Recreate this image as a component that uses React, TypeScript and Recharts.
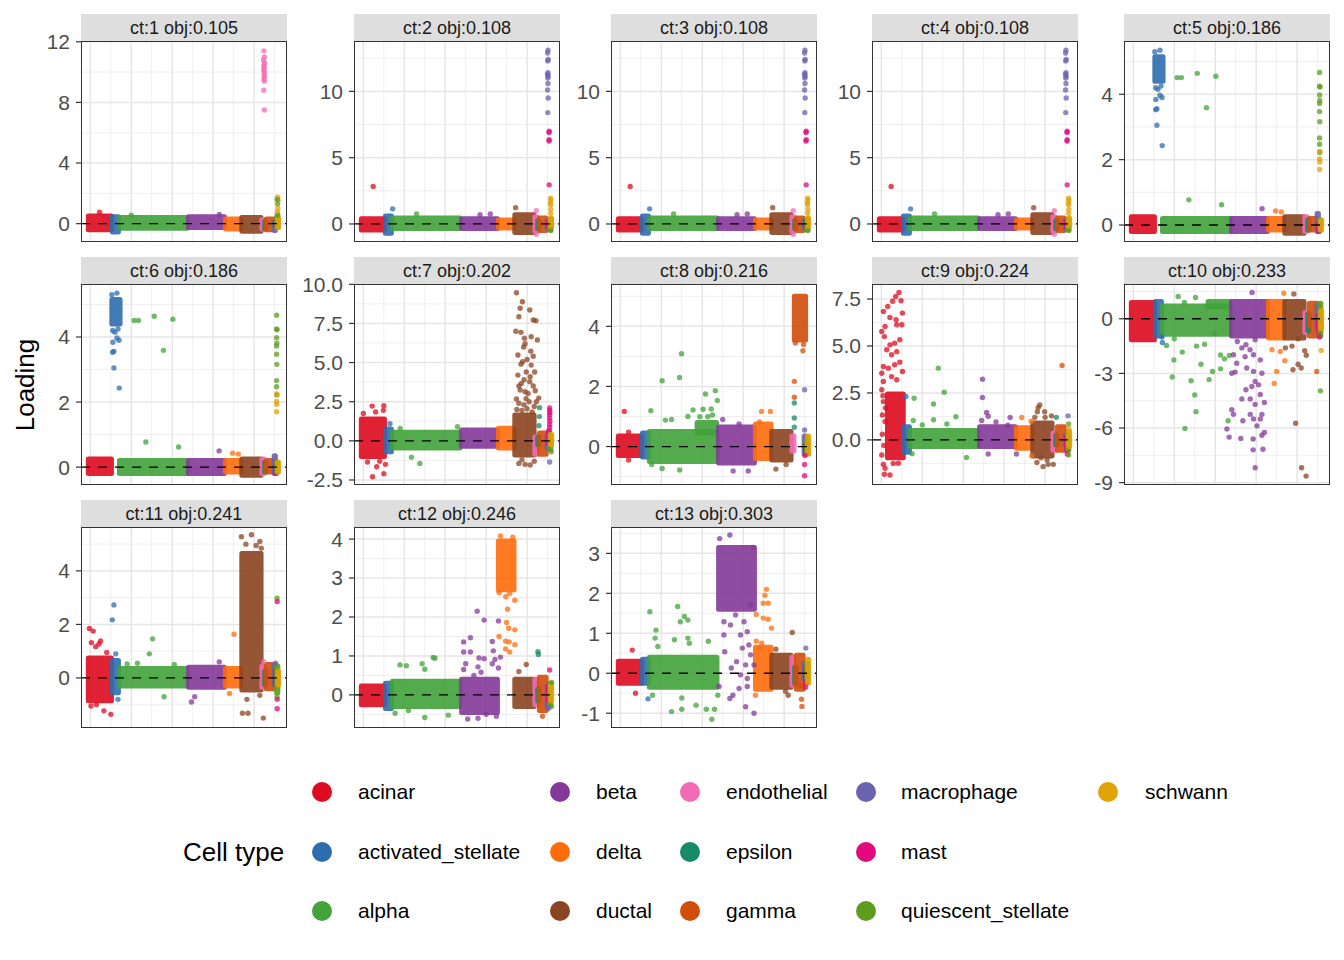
import React from 'react';
import { ScatterChart, Scatter, XAxis, YAxis, CartesianGrid, ReferenceArea, ReferenceLine } from 'recharts';

// cell types in plotting order (cells sorted by type along x)
const CELL_TYPES = [
  'acinar', 'activated_stellate', 'alpha', 'beta', 'delta', 'ductal', 'endothelial',
  'epsilon', 'gamma', 'macrophage', 'mast', 'quiescent_stellate', 'schwann',
];
const CELL_COLORS = [
  '#DD0B1F', '#2E6DAD', '#42A33A', '#84399A', '#FF6C0C', '#8B4421', '#F36BB5',
  '#178A68', '#D14D0B', '#6A63AD', '#E1097D', '#5E9C1E', '#E0A205',
];
// cell index range of each type (thousands of cells)
const TYPE_X0 = [-0.1, 1.08, 1.42, 4.8, 6.6, 7.4, 8.38, 8.52, 8.6, 8.98, 9.05, 9.1, 9.15];
const TYPE_X1 = [1.03, 1.37, 4.72, 6.55, 7.36, 8.34, 8.48, 8.58, 8.93, 9.04, 9.09, 9.16, 9.2];

const X_DOMAIN = [-0.4575, 9.6075];
const X_MAJOR = [0, 2, 4, 6, 8];
const X_MINOR = [1, 3, 5, 7, 9];

const FACET_LABELS = [
  'ct:1 obj:0.105', 'ct:2 obj:0.108', 'ct:3 obj:0.108', 'ct:4 obj:0.108', 'ct:5 obj:0.186',
  'ct:6 obj:0.186', 'ct:7 obj:0.202', 'ct:8 obj:0.216', 'ct:9 obj:0.224', 'ct:10 obj:0.233',
  'ct:11 obj:0.241', 'ct:12 obj:0.246', 'ct:13 obj:0.303',
];
const Y_DOMAINS = [
  [-1.21, 12.05], [-1.36, 13.8], [-1.36, 13.8], [-1.36, 13.8], [-0.52, 5.63],
  [-0.55, 5.63], [-2.82, 10.02], [-1.28, 5.41], [-2.4, 8.3], [-9.13, 1.91],
  [-1.87, 5.64], [-0.85, 4.31], [-1.37, 3.66],
];
const Y_TICKS = [
  [0, 4, 8, 12], [0, 5, 10], [0, 5, 10], [0, 5, 10], [0, 2, 4],
  [0, 2, 4], [-2.5, 0, 2.5, 5, 7.5, 10], [0, 2, 4], [0, 2.5, 5, 7.5], [-9, -6, -3, 0],
  [0, 2, 4], [0, 1, 2, 3, 4], [-1, 0, 1, 2, 3],
];
const Y_DECIMALS = [0, 0, 0, 0, 0, 0, 1, 0, 1, 0, 0, 0, 0];

// dense bulk of each type: [type, yLow, yHigh, xFrom?, xTo?]
const CORES_1 = [
  [0, -0.4, 0.5], [1, -0.55, 0.45], [2, -0.3, 0.4], [3, -0.25, 0.45], [4, -0.35, 0.3],
  [5, -0.5, 0.4], [6, -0.35, 0.25], [7, -0.35, 0.15], [8, -0.4, 0.3], [9, -0.45, 0.15],
  [10, -0.15, 0.15], [11, -0.25, 0.45], [12, -0.25, 0.35],
];
const CORES_2 = [
  [0, -0.45, 0.4], [1, -0.7, 0.6], [2, -0.35, 0.45], [3, -0.35, 0.4], [4, -0.3, 0.3],
  [5, -0.65, 0.7], [6, -0.55, 0.55], [7, -0.35, 0.25], [8, -0.5, 0.45], [9, -0.35, 0.25],
  [10, -0.25, 0.25], [11, -0.45, 0.35], [12, -0.25, 0.45],
];
const CORES_5 = [
  [0, -0.2, 0.25], [1, 4.4, 5.15, 1.05, 1.45], [2, -0.2, 0.2], [3, -0.2, 0.2], [4, -0.15, 0.2],
  [5, -0.25, 0.25], [6, -0.2, 0.25], [7, -0.15, 0.15], [8, -0.15, 0.2], [9, -0.2, 0.35],
  [10, -0.2, 0.05], [11, -0.15, 0.15], [12, -0.15, 0.15],
];
const CORES_7 = [
  [0, -1.0, 1.4], [1, -0.7, 0.75], [2, -0.45, 0.55], [3, -0.35, 0.7], [4, -0.45, 0.8],
  [5, -0.9, 1.65], [6, -0.85, 0.25], [7, -0.25, 0.25], [8, -0.85, 0.5], [9, -0.45, 0.35],
  [10, -0.15, 0.65], [11, -0.55, 0.4], [12, -0.25, 0.4],
];
const CORES_8 = [
  [0, -0.3, 0.35], [1, -0.35, 0.45], [2, -0.5, 0.5], [2, 0.45, 0.8, 3.75, 4.7], [3, -0.55, 0.65],
  [4, -0.4, 0.75], [5, -0.45, 0.5], [6, -0.15, 0.35], [8, 3.55, 5.0, 8.5, 9.05], [9, -0.25, 0.35],
  [10, -0.25, 0.05], [11, -0.25, 0.25], [12, -0.25, 0.35],
];
const CORES_9 = [
  [0, -0.95, 2.45, 0.3, 1.07], [1, -0.65, 0.7], [2, -0.35, 0.5], [3, -0.35, 0.7], [4, -0.45, 0.65],
  [5, -0.85, 0.9], [6, -0.55, 0.35], [7, -0.25, 0.25], [8, -0.55, 0.7], [9, -0.25, 0.25],
  [10, -0.55, 0.15], [11, -0.55, 0.45], [12, -0.35, 0.45],
];
const CORES_10 = [
  [0, -1.15, 0.9], [1, -0.95, 0.95], [2, -0.85, 0.7], [2, 0.65, 0.95, 3.65, 4.7], [3, -0.95, 0.95],
  [4, -1.05, 0.95], [5, -1.05, 0.95], [6, -0.75, 0.35], [7, -0.65, 0.25], [8, -0.95, 0.85],
  [9, -0.45, 0.75], [10, -0.75, 0.15], [11, -0.95, 0.85], [12, -0.55, 0.45],
];
const CORES_11 = [
  [0, -0.85, 0.75], [1, -0.55, 0.65], [2, -0.3, 0.35], [3, -0.35, 0.4], [4, -0.3, 0.35],
  [5, -0.45, 4.65], [6, -0.35, 0.45], [7, -0.25, 0.25], [8, -0.4, 0.5], [9, -0.25, 0.5],
  [10, -0.25, 0.25], [11, -0.55, 0.45], [12, -0.25, 0.25],
];
const CORES_12 = [
  [0, -0.25, 0.23], [1, -0.35, 0.3], [2, -0.3, 0.35], [3, -0.45, 0.4], [4, 2.7, 3.95],
  [5, -0.3, 0.4], [6, -0.25, 0.4], [7, -0.15, 0.15], [8, -0.4, 0.45], [9, -0.3, 0.25],
  [10, -0.15, 0.25], [11, -0.25, 0.3], [12, -0.15, 0.25],
];
const CORES_13 = [
  [0, -0.25, 0.3], [1, -0.25, 0.35], [2, -0.35, 0.4], [3, 1.6, 3.15], [4, -0.4, 0.65],
  [5, -0.35, 0.45], [6, -0.3, 0.4], [7, -0.25, 0.15], [8, -0.4, 0.45], [9, -0.15, 0.25],
  [10, -0.25, 0.15], [11, -0.15, 0.25], [12, -0.25, 0.35],
];

// single cells away from the bulk: [type, x, loading]
const PTS_1 = [
  [0, 0.45, 0.75], [2, 2.0, 0.55], [3, 6.3, 0.6],
  [6, 8.48, 11.4], [6, 8.5, 11.0], [6, 8.46, 10.8], [6, 8.52, 10.6], [6, 8.48, 10.45],
  [6, 8.5, 10.3], [6, 8.47, 10.15], [6, 8.5, 10.0], [6, 8.49, 9.85], [6, 8.51, 9.7],
  [6, 8.48, 9.55], [6, 8.5, 9.4], [6, 8.47, 8.8], [6, 8.5, 7.5],
  [12, 9.15, 1.75], [12, 9.17, 1.55], [11, 9.13, 1.6], [11, 9.15, 1.3], [12, 9.16, 1.0],
  [12, 9.14, 0.75], [11, 9.16, 0.55],
];
const PTS_2 = [
  [0, 0.48, 2.83], [1, 1.43, 1.14], [2, 2.6, 0.75], [3, 5.7, 0.7], [3, 6.2, 0.75],
  [5, 7.44, 1.23], [6, 8.45, 1.0], [6, 8.45, -0.78],
  [9, 9.02, 13.1], [9, 9.0, 12.9], [9, 9.03, 12.4], [9, 9.01, 12.3], [9, 9.02, 11.4],
  [9, 9.0, 11.3], [9, 9.03, 11.15], [9, 9.01, 11.0], [9, 9.02, 10.6], [9, 9.0, 10.1],
  [9, 9.03, 9.5], [9, 9.01, 8.4],
  [10, 9.08, 7.0], [10, 9.07, 6.9], [10, 9.08, 6.35], [10, 9.07, 6.25], [10, 9.08, 2.95],
  [12, 9.15, 1.95], [12, 9.16, 1.8], [12, 9.14, 1.6], [12, 9.15, 1.45], [12, 9.16, 1.1],
  [12, 9.15, 0.8], [11, 9.16, -0.5],
];
const PTS_5 = [
  [1, 1.05, 5.3], [1, 1.3, 5.35], [1, 1.09, 4.2], [1, 1.3, 3.97], [1, 1.4, 3.9], [1, 1.1, 3.84],
  [1, 1.09, 3.53], [1, 1.15, 3.56], [1, 1.15, 3.05], [1, 1.41, 2.43], [1, 1.2, 4.15], [1, 1.35, 4.25],
  [2, 2.14, 4.51], [2, 2.35, 4.51], [2, 3.12, 4.64], [2, 3.57, 3.59], [2, 4.03, 4.55],
  [2, 2.71, 0.77], [2, 4.31, 0.62],
  [3, 6.29, 0.5], [4, 6.95, 0.43], [4, 7.23, 0.4],
  [11, 9.1, 4.67], [11, 9.1, 4.25], [11, 9.12, 4.22], [11, 9.1, 3.98], [11, 9.11, 3.81],
  [11, 9.1, 3.72], [11, 9.1, 3.47], [11, 9.11, 3.16], [11, 9.1, 2.66], [11, 9.1, 2.47],
  [11, 9.11, 2.22], [12, 9.11, 2.25], [12, 9.1, 2.02], [12, 9.11, 1.93], [12, 9.1, 1.7],
];
const PTS_7 = [
  [0, 0.43, 2.22], [0, 1.0, 2.25], [0, 0.98, 1.95], [0, 0.0, 1.75], [0, 0.6, 1.85],
  [0, 0.65, -1.65], [0, 0.45, -2.29], [0, 1.0, -2.1], [0, 1.08, -1.5], [0, 0.2, -1.35], [0, 0.8, -1.3],
  [1, 1.3, 1.1], [2, 2.76, -1.44], [2, 2.35, -1.04], [2, 4.6, 0.9], [2, 1.8, 0.8],
  [5, 7.48, 9.46], [5, 7.77, 8.89], [5, 7.66, 8.47], [5, 8.13, 8.36], [5, 7.6, 7.93], [5, 8.3, 7.72],
  [5, 8.43, 7.68], [5, 7.45, 7.0], [5, 7.7, 6.93], [5, 8.2, 6.65], [5, 7.87, 6.55], [5, 8.5, 6.45],
  [5, 7.83, 6.0], [5, 7.55, 5.48], [5, 8.18, 5.73], [5, 7.78, 5.05], [5, 8.2, 4.84], [5, 7.55, 4.2],
  [5, 7.96, 4.4], [5, 8.37, 4.4], [5, 7.72, 3.67], [5, 8.13, 3.78], [5, 8.3, 3.5], [5, 7.66, 3.25],
  [5, 7.9, 3.14], [5, 8.05, 3.03], [5, 7.48, 2.67], [5, 8.57, 2.73], [5, 7.6, 2.4], [5, 7.85, 2.3],
  [5, 8.1, 2.5], [5, 8.35, 2.2], [5, 7.5, 2.0], [5, 7.75, 1.95], [5, 8.0, 2.05], [5, 8.25, 1.85],
  [5, 8.45, 2.5], [5, 7.95, 2.7], [5, 7.7, 4.9], [5, 8.0, 5.2], [5, 7.9, 6.2], [5, 8.3, 5.4],
  [5, 7.6, 3.5], [5, 8.15, 4.1], [5, 7.85, 3.9], [5, 8.4, 3.2],
  [5, 7.6, -1.44], [5, 7.9, -1.5], [5, 8.15, -1.54], [5, 7.75, -1.2], [5, 8.35, -1.3],
  [7, 8.61, 2.12], [7, 8.6, 1.55], [7, 8.58, 0.97],
  [10, 9.1, 2.1], [10, 9.1, 1.95], [10, 9.11, 1.8], [10, 9.1, 1.65], [10, 9.1, 1.45],
  [10, 9.11, 1.25], [10, 9.1, 1.05], [10, 9.1, 0.85], [9, 9.1, -1.35], [11, 9.18, -0.7],
];
const PTS_8 = [
  [0, 0.19, 1.17], [0, 0.4, 0.48], [0, 0.4, -0.45],
  [2, 2.04, 2.19], [2, 2.89, 2.3], [2, 2.99, 3.09], [2, 1.49, 1.19], [2, 2.2, 0.88], [2, 2.5, 0.9],
  [2, 3.55, 1.22], [2, 3.88, 0.99], [2, 4.04, 1.24], [2, 4.16, 1.75], [2, 4.64, 1.86], [2, 4.74, 1.53],
  [2, 4.44, 1.25], [2, 4.27, 0.99], [2, 1.53, -0.6], [2, 2.04, -0.73], [2, 2.9, -0.78], [2, 3.3, 1.0],
  [2, 4.5, 1.05],
  [3, 5.51, -0.81], [3, 6.25, -0.81], [3, 5.0, 0.9], [3, 5.8, 0.75],
  [4, 6.9, 1.17], [4, 7.33, 1.17], [4, 6.8, 0.82], [5, 7.6, -0.75], [5, 8.1, -0.6],
  [8, 8.92, 3.19], [8, 8.5, 2.17], [8, 8.5, 1.64], [8, 8.55, 3.45], [8, 8.95, 3.4],
  [7, 8.5, 1.45], [7, 8.5, 0.95], [7, 8.5, 0.64], [9, 9.0, 1.89], [9, 9.0, 0.55],
  [10, 9.0, -0.6], [10, 9.0, -0.97], [10, 9.02, -0.3],
];
const PTS_9 = [
  [0, 0.86, 7.85], [0, 0.7, 7.64], [0, 0.96, 7.41], [0, 0.55, 7.38], [0, 0.31, 7.1], [0, 0.1, 6.84],
  [0, 1.03, 6.75], [0, 0.72, 6.4], [0, 0.42, 6.52], [0, 0.75, 6.13], [0, 1.0, 6.13], [0, 0.18, 6.04],
  [0, 0.02, 5.77], [0, 0.15, 5.5], [0, 0.9, 5.33], [0, 0.65, 5.15], [0, 0.42, 5.06], [0, 0.26, 4.8],
  [0, 0.75, 4.7], [0, 0.5, 4.53], [0, 0.9, 4.14], [0, 0.1, 3.91], [0, 0.34, 3.82], [0, 0.65, 4.0],
  [0, 1.03, 3.64], [0, 0.02, 3.55], [0, 0.5, 3.37], [0, 0.1, 3.11], [0, 0.75, 3.2], [0, 0.02, 2.67],
  [0, 0.1, 2.04], [0, 0.05, 1.33], [0, 0.18, 0.98], [0, 0.02, -0.8], [0, 0.1, -1.3], [0, 0.18, -1.51],
  [0, 0.42, -1.87], [0, 0.15, -1.83], [0, 0.83, -1.24], [0, 0.58, -1.25], [0, 0.05, 0.3],
  [0, 0.12, -0.3], [0, 0.2, 1.7], [0, 0.08, 2.35],
  [1, 1.2, 2.31],
  [2, 1.6, 2.22], [2, 2.78, 3.82], [2, 3.07, 2.54], [2, 2.55, 1.91], [2, 1.56, 1.04], [2, 2.55, 1.07],
  [2, 3.64, 1.23], [2, 1.5, -0.73], [2, 4.16, -0.94], [2, 2.0, 0.8], [2, 3.2, 0.85],
  [3, 4.94, 3.23], [3, 4.94, 2.26], [3, 5.14, 1.46], [3, 5.22, 1.26], [3, 4.9, 1.03], [3, 6.29, 1.19],
  [3, 6.18, 0.78], [3, 5.22, -0.75], [3, 6.6, -0.75], [3, 5.6, 0.95],
  [4, 6.86, 1.19], [4, 7.32, 1.0], [4, 7.35, -0.85],
  [5, 7.66, 1.72], [5, 7.74, 1.86], [5, 7.98, 1.5], [5, 7.62, 1.5], [5, 8.31, 1.28], [5, 7.9, -1.42],
  [5, 7.6, -1.2], [5, 8.15, -1.3], [5, 8.4, -1.3], [5, 7.8, -0.95], [5, 8.1, -1.05], [5, 7.5, 1.2],
  [5, 8.0, 1.2],
  [8, 8.83, 3.96], [7, 8.55, 1.2], [9, 9.12, 1.28], [10, 9.08, -0.75], [11, 9.15, 0.85],
  [11, 9.15, -0.8], [12, 9.16, 0.6],
];
const PTS_10 = [
  [1, 1.4, -1.0], [1, 1.42, -1.3],
  [2, 2.19, 1.23], [2, 3.04, 1.17], [2, 2.5, 0.9], [2, 1.62, -1.47], [2, 3.09, -1.5], [2, 3.48, -1.4],
  [2, 2.0, -1.1], [2, 2.39, -1.83], [2, 1.98, -2.26], [2, 3.3, -2.5], [2, 4.26, -1.99], [2, 4.69, -2.02],
  [2, 4.45, -2.2], [2, 3.87, -2.9], [2, 4.26, -2.75], [2, 3.7, -3.34], [2, 1.9, -3.2], [2, 2.82, -3.4],
  [2, 3.0, -4.18], [2, 3.06, -5.1], [2, 2.52, -6.02], [2, 4.63, -5.6], [2, 3.96, -0.8],
  [3, 5.8, 1.45], [3, 4.89, -1.98], [3, 5.05, -2.44], [3, 5.46, -2.08], [3, 5.87, -1.98], [3, 6.2, -2.26],
  [3, 4.81, -2.99], [3, 4.97, -2.93], [3, 5.54, -2.7], [3, 5.87, -2.89], [3, 6.28, -2.99], [3, 5.95, -3.44],
  [3, 5.79, -3.72], [3, 6.12, -3.63], [3, 5.5, -3.9], [3, 6.2, -4.16], [3, 5.3, -4.4], [3, 5.71, -4.4],
  [3, 6.4, -4.6], [3, 5.95, -4.7], [3, 4.81, -5.0], [3, 4.89, -5.25], [3, 5.35, -5.6], [3, 5.71, -5.25],
  [3, 5.87, -5.5], [3, 6.28, -5.25], [3, 6.04, -5.88], [3, 6.2, -5.5], [3, 4.57, -6.05], [3, 4.68, -6.5],
  [3, 5.25, -6.57], [3, 5.85, -6.6], [3, 6.28, -6.4], [3, 6.4, -6.25], [3, 5.85, -7.2], [3, 6.33, -7.17],
  [3, 5.95, -8.18], [3, 5.08, -1.25], [3, 5.5, -1.43], [3, 5.95, -1.15], [3, 5.3, -1.6], [3, 5.7, -1.7],
  [4, 7.18, -1.8], [4, 7.4, -2.3], [4, 7.0, -2.9], [4, 6.88, -3.55], [4, 6.77, -1.7], [4, 7.35, 1.4],
  [5, 7.84, 1.36], [5, 7.43, -1.6], [5, 7.75, -1.5], [5, 8.05, -1.1], [5, 8.37, -1.75], [5, 8.45, -2.0],
  [5, 8.05, -2.5], [5, 8.2, -2.7], [5, 7.8, -2.8], [5, 7.93, -5.74], [5, 8.22, -8.18], [5, 8.44, -8.64],
  [8, 8.96, -2.9], [11, 9.14, -3.96], [12, 9.18, -1.74], [12, 9.18, -0.4], [10, 9.1, -1.0], [7, 8.55, -0.65],
];
const PTS_11 = [
  [0, -0.05, 1.85], [0, 0.14, 1.75], [0, 0.5, 1.38], [0, 0.26, 1.17], [0, 0.42, 1.27], [0, 0.05, 1.32],
  [0, 0.66, -1.23], [0, 1.0, -1.36], [0, 0.03, -1.05], [0, 0.3, -1.0], [0, 0.8, 0.95],
  [1, 1.15, 2.73], [1, 1.07, 2.17], [1, 1.24, 0.9], [1, 1.35, -0.8],
  [2, 3.04, 1.46], [2, 2.88, 0.9], [2, 1.8, 0.52], [2, 3.6, -0.7], [2, 2.3, 0.55], [2, 4.1, 0.5],
  [3, 4.94, -0.9], [3, 5.1, -0.7], [3, 6.3, 0.6], [4, 7.02, 1.63], [4, 6.8, -0.58],
  [5, 7.38, 5.28], [5, 7.87, 5.35], [5, 8.28, 5.1], [5, 7.43, -1.32], [5, 7.7, -1.32], [5, 8.45, -1.5],
  [5, 7.65, -0.8], [5, 8.28, -0.65], [5, 7.6, 5.0], [5, 8.1, 4.95], [5, 8.35, 4.85],
  [6, 8.47, 0.61], [11, 9.12, 2.98], [11, 9.12, -0.7], [10, 9.13, 2.85], [10, 9.13, -0.8],
  [10, 9.13, -1.15], [12, 9.16, 0.05], [9, 9.05, 0.55],
];
const PTS_12 = [
  [2, 1.79, 0.77], [2, 2.87, 0.8], [2, 3.41, 0.96], [2, 3.5, 0.94], [2, 3.0, 0.66], [2, 2.1, 0.75],
  [2, 1.55, -0.47], [2, 3.0, -0.58], [2, 4.15, -0.52], [2, 2.2, -0.4],
  [3, 5.56, 2.15], [3, 5.9, 1.92], [3, 6.6, 1.9], [3, 5.23, 1.47], [3, 4.9, 1.36], [3, 6.3, 1.37],
  [3, 4.9, 1.1], [3, 5.23, 1.1], [3, 5.65, 0.95], [3, 5.9, 0.93], [3, 6.35, 1.13], [3, 6.43, 0.91],
  [3, 6.6, 0.69], [3, 5.6, 0.72], [3, 5.0, 0.8], [3, 5.1, -0.62], [3, 5.6, -0.6], [3, 6.0, -0.5],
  [3, 6.5, -0.55], [3, 5.4, 0.5], [3, 5.75, 0.58], [3, 4.9, 0.65], [3, 6.7, 0.97], [3, 6.3, 0.8],
  [4, 6.96, 2.52], [4, 7.15, 2.6], [4, 7.4, 2.43], [4, 6.63, 2.63], [4, 7.05, 2.2], [4, 7.0, 1.86],
  [4, 7.1, 1.71], [4, 7.4, 1.67], [4, 6.63, 1.5], [4, 6.95, 1.38], [4, 7.12, 1.36], [4, 7.4, 1.29],
  [4, 6.95, 1.18], [4, 7.15, 1.1], [4, 6.7, 4.08], [4, 7.3, 4.05],
  [5, 7.96, 0.78], [5, 7.6, 0.6], [7, 8.53, 1.11], [7, 8.55, 1.04], [8, 8.75, -0.55],
  [10, 9.1, 0.64], [12, 9.17, 0.25], [11, 9.2, 0.32], [11, 9.2, -0.3], [9, 9.05, -0.35],
];
const PTS_13 = [
  [0, 0.58, 0.58], [0, 0.74, -0.5], [1, 1.35, -0.64],
  [2, 1.44, 1.54], [2, 1.74, 1.08], [2, 1.7, 0.88], [2, 1.83, 0.67], [2, 2.64, 0.84], [2, 2.8, 1.67],
  [2, 2.93, 1.29], [2, 3.13, 1.42], [2, 3.3, 1.33], [2, 3.3, 0.88], [2, 3.37, 0.75], [2, 4.3, 0.8],
  [2, 1.57, -0.55], [2, 2.5, -0.96], [2, 3.0, -0.62], [2, 3.0, -0.9], [2, 3.7, -0.8], [2, 4.2, -0.9],
  [2, 4.47, -1.15], [2, 4.6, -0.9], [2, 4.76, -0.55],
  [3, 5.35, 3.46], [3, 4.85, 3.37], [3, 6.5, 3.15], [3, 5.06, 0.96], [3, 5.38, 1.21], [3, 5.1, 0.54],
  [3, 5.68, 0.29], [3, 5.87, 0.96], [3, 6.04, 1.29], [3, 6.2, 1.04], [3, 6.28, 0.71], [3, 5.96, 0.63],
  [3, 6.36, 0.46], [3, 6.12, 0.21], [3, 6.53, 0.21], [3, 5.42, 0.13], [3, 5.87, -0.04], [3, 6.2, -0.13],
  [3, 5.35, -0.63], [3, 5.5, -0.55], [3, 5.8, -0.38], [3, 6.2, -0.33], [3, 6.12, -0.84], [3, 6.53, -1.0],
  [3, 4.82, -0.33], [3, 5.06, 1.29], [3, 5.63, 1.46], [3, 6.36, 1.71],
  [4, 7.14, 2.1], [4, 7.06, 1.95], [4, 6.98, 1.75], [4, 7.22, 1.75], [4, 6.64, 1.47], [4, 6.98, 1.38],
  [4, 7.22, 1.35], [4, 7.38, 1.13], [4, 6.64, 0.8], [4, 6.8, 0.63], [4, 6.9, 0.75], [4, 6.6, -0.55],
  [5, 8.4, 1.02], [5, 7.6, 0.6], [5, 8.07, -0.45], [5, 8.2, -0.55],
  [8, 8.85, -0.65], [8, 8.87, -0.83], [8, 8.8, -0.3], [10, 9.05, -0.35], [9, 9.06, 0.63],
];

const FACET_CORES = [
  CORES_1, CORES_2, CORES_2, CORES_2, CORES_5, CORES_5, CORES_7,
  CORES_8, CORES_9, CORES_10, CORES_11, CORES_12, CORES_13,
];
const FACET_POINTS = [
  PTS_1, PTS_2, PTS_2, PTS_2, PTS_5, PTS_5, PTS_7,
  PTS_8, PTS_9, PTS_10, PTS_11, PTS_12, PTS_13,
];

// legend is laid out column by column
const LEGEND_COLUMNS = [[0, 1, 2], [3, 4, 5], [6, 7, 8], [9, 10, 11], [12]];

const FONT = '"Liberation Sans", Arial, Helvetica, sans-serif';
const PANEL_LEFT = [81, 354, 611, 872, 1124];
const PANEL_TOP = [41, 284, 527];
const PANEL_W = 206;
const PANEL_H = 201;
const STRIP_H = 27;
const AXIS_W = 70;
const PAD = 14; // room for tick labels sitting on the panel edge

const minorLines = (ticks: number[], domain: number[]) => {
  const step = ticks[1] - ticks[0];
  const out: number[] = [];
  for (let v = ticks[0] - step / 2; v <= domain[1]; v += step) {
    if (v >= domain[0]) out.push(v);
  }
  return out;
};

const Dot = (props: any) => {
  const { cx, cy, payload } = props;
  if (cx == null || cy == null) return null;
  return <circle cx={cx} cy={cy} r={2.7} fill={CELL_COLORS[payload.t]} fillOpacity={0.75} />;
};

const Facet = ({ i }: { i: number }) => {
  const col = i % 5;
  const row = Math.floor(i / 5);
  const left = PANEL_LEFT[col];
  const top = PANEL_TOP[row];
  const data = FACET_POINTS[i].map(([t, x, y]) => ({ t, x, y }));
  const yDomain = Y_DOMAINS[i];

  return (
    <>
      <div
        style={{
          position: 'absolute', left, top: top - STRIP_H, width: PANEL_W, height: STRIP_H,
          background: '#DEDEDE', color: '#1A1A1A', fontSize: 18, lineHeight: `${STRIP_H + 1}px`,
          textAlign: 'center',
        }}
      >
        {FACET_LABELS[i]}
      </div>
      <div style={{ position: 'absolute', left: left - AXIS_W, top: top - PAD }}>
        <ScatterChart
          width={AXIS_W + PANEL_W}
          height={PANEL_H + 2 * PAD}
          margin={{ top: PAD, right: 0, bottom: PAD, left: 0 }}
        >
          <CartesianGrid
            horizontalValues={minorLines(Y_TICKS[i], yDomain)}
            verticalValues={X_MINOR}
            stroke="#EBEBEB"
            strokeWidth={0.8}
          />
          <CartesianGrid
            horizontalValues={Y_TICKS[i]}
            verticalValues={X_MAJOR}
            stroke="#E6E6E6"
            strokeWidth={1.5}
          />
          <XAxis type="number" dataKey="x" domain={X_DOMAIN} allowDataOverflow hide />
          <YAxis
            type="number"
            dataKey="y"
            domain={yDomain}
            ticks={Y_TICKS[i]}
            interval={0}
            allowDataOverflow
            width={AXIS_W}
            axisLine={false}
            tickSize={5}
            tickMargin={6}
            tickLine={{ stroke: '#333333', strokeWidth: 1.2 }}
            tick={{ fill: '#4D4D4D', fontSize: 21 }}
            tickFormatter={(v: number) => v.toFixed(Y_DECIMALS[i])}
          />
          {FACET_CORES[i].map((c, k) => (
            <ReferenceArea
              key={k}
              x1={c[3] ?? TYPE_X0[c[0]]}
              x2={c[4] ?? TYPE_X1[c[0]]}
              y1={c[1]}
              y2={c[2]}
              fill={CELL_COLORS[c[0]]}
              fillOpacity={1}
              stroke={CELL_COLORS[c[0]]}
              strokeOpacity={1}
              strokeWidth={5}
              strokeLinejoin="round"
              opacity={0.9}
            />
          ))}
          <Scatter data={data} isAnimationActive={false} shape={Dot} />
          <ReferenceLine y={0} stroke="#000000" strokeWidth={1.3} strokeDasharray="9 8" zIndex={800} />
        </ScatterChart>
      </div>
      <div
        style={{
          position: 'absolute', left, top, width: PANEL_W, height: PANEL_H,
          border: '1.3px solid #333333', boxSizing: 'border-box', pointerEvents: 'none',
        }}
      />
    </>
  );
};

const LEGEND_DOT_X = [322, 560, 690, 866, 1108];
const LEGEND_LABEL_X = [358, 596, 726, 901, 1145];
const LEGEND_ROW_Y = [792, 852, 911];

export default function App() {
  return (
    <div
      style={{
        position: 'absolute', left: 0, top: 0, width: 1344, height: 960,
        background: '#FFFFFF', fontFamily: FONT, overflow: 'hidden',
      }}
    >
      {FACET_LABELS.map((_, i) => (
        <Facet key={i} i={i} />
      ))}

      <div
        style={{
          position: 'absolute', left: 25, top: 385, transform: 'translate(-50%, -50%) rotate(-90deg)',
          fontSize: 26, color: '#000000', whiteSpace: 'nowrap',
        }}
      >
        Loading
      </div>

      <div
        style={{
          position: 'absolute', left: 183, top: 852, transform: 'translateY(-50%)',
          fontSize: 26, color: '#000000', whiteSpace: 'nowrap',
        }}
      >
        Cell type
      </div>
      {LEGEND_COLUMNS.map((types, c) =>
        types.map((t, r) => (
          <React.Fragment key={t}>
            <div
              style={{
                position: 'absolute', left: LEGEND_DOT_X[c] - 10, top: LEGEND_ROW_Y[r] - 10,
                width: 20, height: 20, borderRadius: 10, background: CELL_COLORS[t],
              }}
            />
            <div
              style={{
                position: 'absolute', left: LEGEND_LABEL_X[c], top: LEGEND_ROW_Y[r],
                transform: 'translateY(-50%)', fontSize: 21, color: '#000000', whiteSpace: 'nowrap',
              }}
            >
              {CELL_TYPES[t]}
            </div>
          </React.Fragment>
        ))
      )}
    </div>
  );
}
